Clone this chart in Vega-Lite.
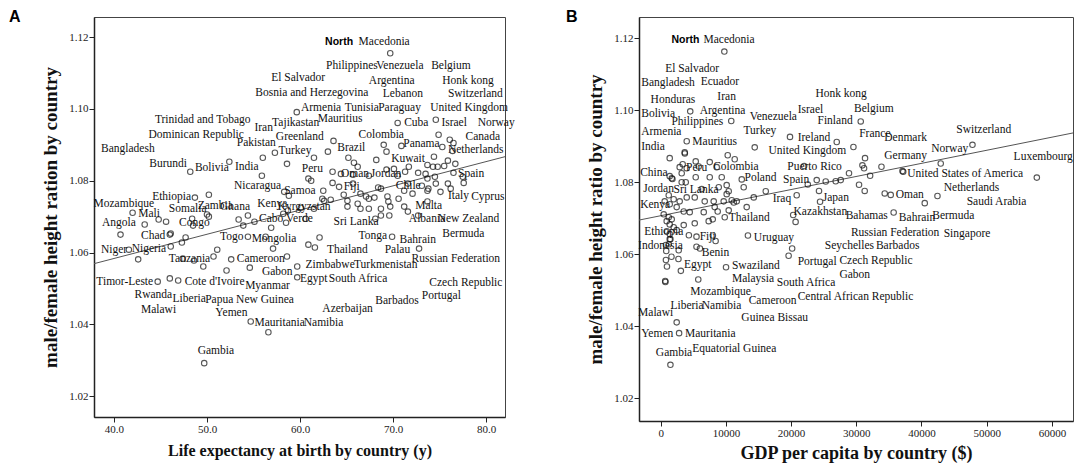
{
  "$schema": "https://vega.github.io/schema/vega-lite/v6.json",
  "padding": {"left": 8, "top": 8, "right": 2, "bottom": 2},
  "bounds": "flush",
  "spacing": 134,
  "config": {
    "view": {"stroke": "#444", "strokeWidth": 1},
    "axis": {
      "grid": false,
      "domainColor": "#222",
      "domainWidth": 1.5,
      "tickColor": "#222",
      "tickSize": 5,
      "labelFont": "Liberation Serif",
      "labelFontSize": 11,
      "labelColor": "#222",
      "labelPadding": 1,
      "titleFont": "Liberation Serif",
      "titleFontWeight": "bold",
      "titleFontSize": 16,
      "titleColor": "#111"
    }
  },
  "datasets": {
    "ptsA": [
      {"x": 69.7, "y": 1.1155}, {"x": 59.65, "y": 1.0991}, {"x": 70.5, "y": 1.0961}, {"x": 74.6, "y": 1.097},
      {"x": 74.9, "y": 1.0928}, {"x": 76.1, "y": 1.0914}, {"x": 76.5, "y": 1.0905}, {"x": 76.4, "y": 1.0883},
      {"x": 75.3, "y": 1.0894}, {"x": 70.9, "y": 1.0897}, {"x": 69.0, "y": 1.09}, {"x": 69.3, "y": 1.0881},
      {"x": 74.4, "y": 1.0867}, {"x": 75.9, "y": 1.0856}, {"x": 76.7, "y": 1.0847}, {"x": 75.5, "y": 1.0841},
      {"x": 63.6, "y": 1.0911}, {"x": 63.0, "y": 1.0881}, {"x": 61.5, "y": 1.0864}, {"x": 58.6, "y": 1.0847},
      {"x": 57.3, "y": 1.0878}, {"x": 56.0, "y": 1.0864}, {"x": 55.9, "y": 1.0814}, {"x": 52.4, "y": 1.0853},
      {"x": 48.2, "y": 1.0825}, {"x": 65.2, "y": 1.0864}, {"x": 65.8, "y": 1.085}, {"x": 66.2, "y": 1.0839},
      {"x": 68.2, "y": 1.0858}, {"x": 71.7, "y": 1.0839}, {"x": 71.3, "y": 1.0825}, {"x": 69.3, "y": 1.0831},
      {"x": 60.9, "y": 1.0806}, {"x": 61.2, "y": 1.08}, {"x": 63.5, "y": 1.0825}, {"x": 64.4, "y": 1.0819},
      {"x": 65.7, "y": 1.0817}, {"x": 67.4, "y": 1.0814}, {"x": 70.1, "y": 1.0833}, {"x": 70.5, "y": 1.0814},
      {"x": 72.7, "y": 1.0822}, {"x": 73.5, "y": 1.0819}, {"x": 74.3, "y": 1.0839}, {"x": 73.7, "y": 1.0844},
      {"x": 74.5, "y": 1.0811}, {"x": 74.8, "y": 1.0839}, {"x": 76.5, "y": 1.0822}, {"x": 77.6, "y": 1.0794},
      {"x": 77.5, "y": 1.0811}, {"x": 63.5, "y": 1.0794}, {"x": 65.7, "y": 1.0792}, {"x": 64.2, "y": 1.0783},
      {"x": 62.5, "y": 1.0772}, {"x": 62.4, "y": 1.075}, {"x": 63.3, "y": 1.0747}, {"x": 64.7, "y": 1.0761},
      {"x": 65.1, "y": 1.0744}, {"x": 66.5, "y": 1.0764}, {"x": 67.1, "y": 1.0756}, {"x": 67.4, "y": 1.075},
      {"x": 68.0, "y": 1.0753}, {"x": 68.7, "y": 1.0778}, {"x": 68.4, "y": 1.0781}, {"x": 69.4, "y": 1.0756},
      {"x": 69.5, "y": 1.0742}, {"x": 70.6, "y": 1.075}, {"x": 71.2, "y": 1.0772}, {"x": 72.1, "y": 1.0764},
      {"x": 71.6, "y": 1.0792}, {"x": 73.1, "y": 1.0786}, {"x": 73.7, "y": 1.0772}, {"x": 73.8, "y": 1.0778},
      {"x": 74.6, "y": 1.0792}, {"x": 75.1, "y": 1.0769}, {"x": 75.9, "y": 1.0792}, {"x": 76.2, "y": 1.0778},
      {"x": 73.7, "y": 1.0806}, {"x": 61.5, "y": 1.0722}, {"x": 60.1, "y": 1.0725}, {"x": 58.7, "y": 1.0717},
      {"x": 65.1, "y": 1.0728}, {"x": 66.2, "y": 1.0736}, {"x": 66.5, "y": 1.0722}, {"x": 67.4, "y": 1.0722},
      {"x": 68.7, "y": 1.0722}, {"x": 69.7, "y": 1.0728}, {"x": 71.2, "y": 1.0728}, {"x": 71.6, "y": 1.0714},
      {"x": 73.7, "y": 1.0742}, {"x": 72.7, "y": 1.0703}, {"x": 68.7, "y": 1.0703}, {"x": 69.6, "y": 1.0703},
      {"x": 62.6, "y": 1.0744}, {"x": 60.6, "y": 1.0694}, {"x": 58.3, "y": 1.0769}, {"x": 58.8, "y": 1.0758},
      {"x": 56.9, "y": 1.0669}, {"x": 55.1, "y": 1.0686}, {"x": 54.4, "y": 1.0703}, {"x": 53.4, "y": 1.0692},
      {"x": 53.9, "y": 1.0675}, {"x": 58.5, "y": 1.0683}, {"x": 58.2, "y": 1.0708}, {"x": 54.4, "y": 1.0644},
      {"x": 56.3, "y": 1.0644}, {"x": 57.1, "y": 1.0611}, {"x": 58.6, "y": 1.0589}, {"x": 60.9, "y": 1.0622},
      {"x": 61.6, "y": 1.0614}, {"x": 62.1, "y": 1.0642}, {"x": 59.7, "y": 1.0561}, {"x": 59.7, "y": 1.0531},
      {"x": 69.9, "y": 1.0644}, {"x": 72.8, "y": 1.0611}, {"x": 52.6, "y": 1.0581}, {"x": 52.1, "y": 1.055},
      {"x": 54.6, "y": 1.0558}, {"x": 47.4, "y": 1.0583}, {"x": 48.6, "y": 1.0578}, {"x": 49.6, "y": 1.0561},
      {"x": 50.7, "y": 1.0589}, {"x": 51.1, "y": 1.0608}, {"x": 41.6, "y": 1.0608}, {"x": 42.6, "y": 1.0581},
      {"x": 46.1, "y": 1.0617}, {"x": 47.3, "y": 1.0628}, {"x": 47.7, "y": 1.0642}, {"x": 46.1, "y": 1.0653},
      {"x": 46.0, "y": 1.065}, {"x": 40.7, "y": 1.065}, {"x": 43.3, "y": 1.0678}, {"x": 42.0, "y": 1.0711},
      {"x": 44.8, "y": 1.0692}, {"x": 45.6, "y": 1.0686}, {"x": 48.4, "y": 1.0694}, {"x": 50.0, "y": 1.0706},
      {"x": 50.2, "y": 1.07}, {"x": 48.7, "y": 1.0753}, {"x": 50.2, "y": 1.0761}, {"x": 44.7, "y": 1.0519},
      {"x": 46.0, "y": 1.0528}, {"x": 46.9, "y": 1.0522}, {"x": 54.7, "y": 1.0408}, {"x": 56.6, "y": 1.0378},
      {"x": 49.7, "y": 1.0292}, {"x": 48.5, "y": 1.0675}, {"x": 68.1, "y": 1.0694}
    ],
    "fitA": [{"x": 37.85, "y": 1.0569}, {"x": 82.04, "y": 1.0867}],
    "labA": [
      {"c": "Macedonia", "x": 66.3, "y": 1.1186},
      {"c": "Philippines", "x": 62.8, "y": 1.1119}, {"c": "Venezuela", "x": 68.2, "y": 1.1119}, {"c": "Belgium", "x": 74.1, "y": 1.1119},
      {"c": "El Salvador", "x": 56.9, "y": 1.1086}, {"c": "Argentina", "x": 67.4, "y": 1.1078}, {"c": "Honk kong", "x": 75.3, "y": 1.1078},
      {"c": "Bosnia and Herzegovina", "x": 55.2, "y": 1.1044}, {"c": "Lebanon", "x": 68.9, "y": 1.1042}, {"c": "Switzerland", "x": 75.9, "y": 1.1042},
      {"c": "Armenia", "x": 60.1, "y": 1.1003}, {"c": "Tunisia", "x": 64.8, "y": 1.1003}, {"c": "Paraguay", "x": 68.4, "y": 1.1003}, {"c": "United Kingdom", "x": 74.0, "y": 1.1003},
      {"c": "Trinidad and Tobago", "x": 44.4, "y": 1.0969}, {"c": "Iran", "x": 55.1, "y": 1.0947}, {"c": "Tajikastan", "x": 57.0, "y": 1.0961}, {"c": "Mauritius", "x": 61.9, "y": 1.0972},
      {"c": "Cuba", "x": 71.2, "y": 1.0961}, {"c": "Israel", "x": 75.2, "y": 1.0961}, {"c": "Norway", "x": 79.1, "y": 1.0961},
      {"c": "Dominican Republic", "x": 43.7, "y": 1.0928}, {"c": "Greenland", "x": 57.4, "y": 1.0922}, {"c": "Colombia", "x": 66.3, "y": 1.0928},
      {"c": "Panama", "x": 71.1, "y": 1.0903}, {"c": "Canada", "x": 77.8, "y": 1.0922},
      {"c": "Bangladesh", "x": 38.6, "y": 1.0889}, {"c": "Pakistan", "x": 53.2, "y": 1.0906}, {"c": "Turkey", "x": 57.7, "y": 1.0883},
      {"c": "Brazil", "x": 64.0, "y": 1.0892}, {"c": "Netherlands", "x": 75.9, "y": 1.0886},
      {"c": "Burundi", "x": 43.8, "y": 1.0847}, {"c": "Bolivia", "x": 48.7, "y": 1.0836}, {"c": "India", "x": 53.0, "y": 1.0839}, {"c": "Kuwait", "x": 69.8, "y": 1.0861},
      {"c": "Peru", "x": 60.2, "y": 1.0833}, {"c": "Oman", "x": 64.4, "y": 1.0819}, {"c": "Jordan", "x": 67.6, "y": 1.0819}, {"c": "Spain", "x": 77.0, "y": 1.0819},
      {"c": "Nicaragua", "x": 52.9, "y": 1.0786}, {"c": "Samoa", "x": 58.3, "y": 1.0772}, {"c": "Fiji", "x": 64.7, "y": 1.0783}, {"c": "Chile", "x": 70.3, "y": 1.0786},
      {"c": "Mozambique", "x": 37.8, "y": 1.0736}, {"c": "Ethiopia", "x": 44.1, "y": 1.0756}, {"c": "Zambia", "x": 49.0, "y": 1.0731}, {"c": "Ghana", "x": 51.4, "y": 1.0728},
      {"c": "Kenya", "x": 55.4, "y": 1.0736}, {"c": "Kyrgyzstan", "x": 57.6, "y": 1.0728}, {"c": "Italy", "x": 75.9, "y": 1.0758}, {"c": "Cyprus", "x": 78.4, "y": 1.0756},
      {"c": "Malta", "x": 72.4, "y": 1.0731}, {"c": "Mali", "x": 42.6, "y": 1.0708}, {"c": "Somalia", "x": 45.9, "y": 1.0722}, {"c": "Congo", "x": 47.0, "y": 1.0681},
      {"c": "Cabo Verde", "x": 55.6, "y": 1.0694}, {"c": "Sri Lanka", "x": 63.6, "y": 1.0686}, {"c": "Albania", "x": 71.7, "y": 1.0694}, {"c": "New Zealand", "x": 74.8, "y": 1.0694},
      {"c": "Angola", "x": 38.7, "y": 1.0681}, {"c": "Chad", "x": 42.9, "y": 1.0647}, {"c": "Togo", "x": 51.4, "y": 1.0644}, {"c": "Mongolia", "x": 54.8, "y": 1.0639},
      {"c": "Tonga", "x": 66.3, "y": 1.0647}, {"c": "Bahrain", "x": 70.7, "y": 1.0636}, {"c": "Bermuda", "x": 75.3, "y": 1.0653},
      {"c": "Niger", "x": 38.6, "y": 1.0608}, {"c": "Nigeria", "x": 41.9, "y": 1.0611}, {"c": "Thailand", "x": 62.9, "y": 1.0608}, {"c": "Palau", "x": 69.1, "y": 1.0608},
      {"c": "Tanzania", "x": 45.9, "y": 1.0583}, {"c": "Cameroon", "x": 53.2, "y": 1.0581}, {"c": "Russian Federation", "x": 72.0, "y": 1.0581},
      {"c": "Zimbabwe", "x": 60.6, "y": 1.0564}, {"c": "Turkmenistan", "x": 65.8, "y": 1.0564}, {"c": "Gabon", "x": 55.9, "y": 1.0547},
      {"c": "Timor-Leste", "x": 38.1, "y": 1.0519}, {"c": "Cote d'Ivoire", "x": 47.6, "y": 1.0519}, {"c": "Myanmar", "x": 54.1, "y": 1.0508},
      {"c": "Egypt", "x": 60.0, "y": 1.0525}, {"c": "South Africa", "x": 63.1, "y": 1.0525}, {"c": "Czech Republic", "x": 73.9, "y": 1.0514},
      {"c": "Rwanda", "x": 42.2, "y": 1.0481}, {"c": "Liberia", "x": 46.3, "y": 1.0472}, {"c": "Papua New Guinea", "x": 49.8, "y": 1.0467},
      {"c": "Barbados", "x": 68.1, "y": 1.0464}, {"c": "Portugal", "x": 73.1, "y": 1.0478},
      {"c": "Malawi", "x": 42.9, "y": 1.0439}, {"c": "Yemen", "x": 50.9, "y": 1.0431}, {"c": "Azerbaijan", "x": 62.4, "y": 1.0444},
      {"c": "Mauritania", "x": 55.1, "y": 1.0403}, {"c": "Namibia", "x": 60.4, "y": 1.0403}, {"c": "Gambia", "x": 49.0, "y": 1.0325}
    ],
    "boldA": [{"c": "North", "x": 62.7, "y": 1.1186}],
    "ptsB": [
      {"x": 9760, "y": 1.1163}, {"x": 4530, "y": 1.0997}, {"x": 10820, "y": 1.097},
      {"x": 30680, "y": 1.0969}, {"x": 19830, "y": 1.0926}, {"x": 27000, "y": 1.0912}, {"x": 29560, "y": 1.0898},
      {"x": 47820, "y": 1.0904}, {"x": 31340, "y": 1.0867}, {"x": 30940, "y": 1.0847}, {"x": 31190, "y": 1.0839},
      {"x": 28880, "y": 1.0825}, {"x": 32120, "y": 1.0818}, {"x": 33860, "y": 1.0843}, {"x": 37080, "y": 1.0831},
      {"x": 37200, "y": 1.0829}, {"x": 42950, "y": 1.0852}, {"x": 57690, "y": 1.0813}, {"x": 27610, "y": 1.0806},
      {"x": 26840, "y": 1.0803}, {"x": 25310, "y": 1.0802}, {"x": 23930, "y": 1.0806}, {"x": 20860, "y": 1.0764},
      {"x": 24280, "y": 1.0776}, {"x": 24440, "y": 1.0746}, {"x": 31290, "y": 1.0776}, {"x": 30420, "y": 1.0793},
      {"x": 34360, "y": 1.0769}, {"x": 35280, "y": 1.0765}, {"x": 40500, "y": 1.0742}, {"x": 42450, "y": 1.0762},
      {"x": 22000, "y": 1.0845}, {"x": 20320, "y": 1.0709}, {"x": 20690, "y": 1.069}, {"x": 35730, "y": 1.0716},
      {"x": 22560, "y": 1.0794}, {"x": 3990, "y": 1.0914}, {"x": 3680, "y": 1.0883}, {"x": 3700, "y": 1.088},
      {"x": 1380, "y": 1.0867}, {"x": 14420, "y": 1.0897}, {"x": 10280, "y": 1.0875}, {"x": 11350, "y": 1.0864},
      {"x": 12430, "y": 1.0808}, {"x": 12730, "y": 1.0786}, {"x": 14270, "y": 1.0758}, {"x": 16110, "y": 1.0775},
      {"x": 6290, "y": 1.0781}, {"x": 8900, "y": 1.0786}, {"x": 10120, "y": 1.0792}, {"x": 9820, "y": 1.0703},
      {"x": 3370, "y": 1.085}, {"x": 5370, "y": 1.0858}, {"x": 7520, "y": 1.0856}, {"x": 5830, "y": 1.0844},
      {"x": 2910, "y": 1.0842}, {"x": 3990, "y": 1.0839}, {"x": 8590, "y": 1.0842}, {"x": 7520, "y": 1.0814},
      {"x": 9360, "y": 1.0814}, {"x": 5370, "y": 1.0814}, {"x": 3220, "y": 1.0825}, {"x": 3220, "y": 1.08},
      {"x": 3840, "y": 1.08}, {"x": 1380, "y": 1.0817}, {"x": 1690, "y": 1.0811}, {"x": 1800, "y": 1.0809},
      {"x": 10430, "y": 1.0775}, {"x": 10120, "y": 1.0767}, {"x": 11200, "y": 1.0744}, {"x": 11660, "y": 1.0747},
      {"x": 10430, "y": 1.0722}, {"x": 8280, "y": 1.0731}, {"x": 8740, "y": 1.0719}, {"x": 6600, "y": 1.0717},
      {"x": 4450, "y": 1.0717}, {"x": 3530, "y": 1.0719}, {"x": 2450, "y": 1.0731}, {"x": 1990, "y": 1.0753},
      {"x": 1230, "y": 1.0764}, {"x": 1380, "y": 1.0739}, {"x": 610, "y": 1.0747}, {"x": 2910, "y": 1.0747},
      {"x": 3990, "y": 1.0758}, {"x": 5220, "y": 1.0758}, {"x": 6750, "y": 1.0747}, {"x": 8130, "y": 1.0747},
      {"x": 9660, "y": 1.0747}, {"x": 10890, "y": 1.075}, {"x": 13190, "y": 1.0731}, {"x": 7360, "y": 1.0692},
      {"x": 7980, "y": 1.0697}, {"x": 5220, "y": 1.0686}, {"x": 460, "y": 1.0711}, {"x": 1230, "y": 1.0703},
      {"x": 1690, "y": 1.0697}, {"x": 1380, "y": 1.0683}, {"x": 920, "y": 1.0692}, {"x": 1990, "y": 1.0675},
      {"x": 920, "y": 1.0664}, {"x": 1380, "y": 1.0656}, {"x": 2450, "y": 1.0667}, {"x": 3530, "y": 1.0681},
      {"x": 1380, "y": 1.0642}, {"x": 1230, "y": 1.0628}, {"x": 2760, "y": 1.0611}, {"x": 4320, "y": 1.0653},
      {"x": 5490, "y": 1.0649}, {"x": 8000, "y": 1.0652}, {"x": 8420, "y": 1.0637}, {"x": 13380, "y": 1.0652},
      {"x": 5490, "y": 1.0621}, {"x": 6020, "y": 1.0616}, {"x": 1490, "y": 1.0642}, {"x": 800, "y": 1.0626},
      {"x": 850, "y": 1.0609}, {"x": 800, "y": 1.0584}, {"x": 960, "y": 1.0566}, {"x": 1650, "y": 1.0593},
      {"x": 2720, "y": 1.0587}, {"x": 3090, "y": 1.0554}, {"x": 5760, "y": 1.053}, {"x": 690, "y": 1.0526},
      {"x": 720, "y": 1.0523}, {"x": 10020, "y": 1.0564}, {"x": 19620, "y": 1.0596}, {"x": 20160, "y": 1.0616},
      {"x": 2450, "y": 1.0411}, {"x": 2820, "y": 1.0381}, {"x": 1490, "y": 1.0293}
    ],
    "fitB": [{"x": -3330, "y": 1.0695}, {"x": 63240, "y": 1.0937}],
    "labB": [
      {"c": "Macedonia", "x": 6560, "y": 1.1194},
      {"c": "El Salvador", "x": 690, "y": 1.1114}, {"c": "Bangladesh", "x": -2990, "y": 1.1075}, {"c": "Ecuador", "x": 6130, "y": 1.1078},
      {"c": "Honduras", "x": -1550, "y": 1.1028}, {"c": "Iran", "x": 8690, "y": 1.1037}, {"c": "Honk kong", "x": 23730, "y": 1.1045},
      {"c": "Bolivia", "x": -2990, "y": 1.0989}, {"c": "Argentina", "x": 5970, "y": 1.0998}, {"c": "Venezuela", "x": 13650, "y": 1.0981},
      {"c": "Israel", "x": 21010, "y": 1.1001}, {"c": "Belgium", "x": 29650, "y": 1.1003}, {"c": "Philippines", "x": 1650, "y": 1.0967},
      {"c": "Finland", "x": 24050, "y": 1.097}, {"c": "Armenia", "x": -2990, "y": 1.094}, {"c": "Turkey", "x": 12690, "y": 1.0942},
      {"c": "Ireland", "x": 21010, "y": 1.0923}, {"c": "France", "x": 30450, "y": 1.0934}, {"c": "Denmark", "x": 34290, "y": 1.0923},
      {"c": "Switzerland", "x": 45330, "y": 1.0945}, {"c": "India", "x": -2990, "y": 1.0898}, {"c": "Mauritius", "x": 4850, "y": 1.0912},
      {"c": "United Kingdom", "x": 16530, "y": 1.0887}, {"c": "Germany", "x": 34290, "y": 1.0873}, {"c": "Norway", "x": 41490, "y": 1.0893},
      {"c": "Luxembourg", "x": 54130, "y": 1.087}, {"c": "China", "x": -3150, "y": 1.0826}, {"c": "Peru", "x": 3890, "y": 1.084},
      {"c": "Colombia", "x": 8050, "y": 1.0843}, {"c": "Puerto Rico", "x": 19410, "y": 1.0843}, {"c": "United States of America", "x": 37810, "y": 1.0823},
      {"c": "Poland", "x": 12850, "y": 1.0812}, {"c": "Spain", "x": 18770, "y": 1.0807}, {"c": "Jordan", "x": -2670, "y": 1.0782},
      {"c": "Sri Lanka", "x": 1970, "y": 1.0779}, {"c": "Netherlands", "x": 43410, "y": 1.0784}, {"c": "Japan", "x": 24850, "y": 1.0756},
      {"c": "Iraq", "x": 17170, "y": 1.0753}, {"c": "Oman", "x": 36050, "y": 1.0765}, {"c": "Saudi Arabia", "x": 46930, "y": 1.0745},
      {"c": "Kenya", "x": -3150, "y": 1.0737}, {"c": "Kazakhstan", "x": 20370, "y": 1.0718}, {"c": "Bahamas", "x": 28370, "y": 1.0707},
      {"c": "Bahrain", "x": 36530, "y": 1.0701}, {"c": "Bermuda", "x": 41650, "y": 1.0707}, {"c": "Thailand", "x": 10450, "y": 1.0701},
      {"c": "Ethiopia", "x": -2510, "y": 1.0663}, {"c": "Fiji", "x": 5970, "y": 1.0649}, {"c": "Uruguay", "x": 14290, "y": 1.0646},
      {"c": "Russian Federation", "x": 29170, "y": 1.066}, {"c": "Singapore", "x": 43410, "y": 1.0657}, {"c": "Indonesia", "x": -3470, "y": 1.0624},
      {"c": "Seychelles", "x": 25170, "y": 1.0624}, {"c": "Barbados", "x": 33010, "y": 1.0624}, {"c": "Benin", "x": 6290, "y": 1.0604},
      {"c": "Egypt", "x": 3570, "y": 1.0571}, {"c": "Swaziland", "x": 10930, "y": 1.0568}, {"c": "Portugal", "x": 21010, "y": 1.0579},
      {"c": "Czech Republic", "x": 27410, "y": 1.0582}, {"c": "Malaysia", "x": 10930, "y": 1.053}, {"c": "South Africa", "x": 17810, "y": 1.0519},
      {"c": "Gabon", "x": 27410, "y": 1.0543}, {"c": "Mozambique", "x": 4530, "y": 1.0494}, {"c": "Cameroon", "x": 13490, "y": 1.0471},
      {"c": "Central African Republic", "x": 21010, "y": 1.048}, {"c": "Malawi", "x": -3470, "y": 1.0438}, {"c": "Liberia", "x": 1490, "y": 1.0455},
      {"c": "Namibia", "x": 6290, "y": 1.0455}, {"c": "Guinea Bissau", "x": 12370, "y": 1.0424}, {"c": "Yemen", "x": -2990, "y": 1.038},
      {"c": "Mauritania", "x": 3730, "y": 1.038}, {"c": "Gambia", "x": -750, "y": 1.0327}, {"c": "Equatorial Guinea", "x": 4850, "y": 1.0338}
    ],
    "boldB": [{"c": "North", "x": 1650, "y": 1.1194}]
  },
  "hconcat": [
    {
      "width": 411,
      "height": 400,
      "title": {"text": "A", "anchor": "start", "frame": "group", "dx": -85, "offset": -8, "font": "Liberation Sans", "fontSize": 16, "fontWeight": "bold", "color": "#000"},
      "encoding": {
        "x": {
          "field": "x", "type": "quantitative",
          "scale": {"domain": [37.85, 82.04], "nice": false, "zero": false},
          "axis": {"values": [40, 50, 60, 70, 80], "format": ".1f", "title": "Life expectancy at birth by country (y)", "titlePadding": 8}
        },
        "y": {
          "field": "y", "type": "quantitative",
          "scale": {"domain": [1.0142, 1.1256], "nice": false, "zero": false},
          "axis": {"values": [1.02, 1.04, 1.06, 1.08, 1.1, 1.12], "format": ".2f", "title": "male/female height ration by country", "titleFontSize": 19, "titlePadding": 8}
        }
      },
      "layer": [
        {"data": {"name": "fitA"}, "mark": {"type": "line", "color": "#555", "strokeWidth": 1, "clip": true}},
        {"data": {"name": "ptsA"}, "mark": {"type": "point", "shape": "circle", "filled": false, "size": 30, "color": "#111", "strokeWidth": 1.1}},
        {"data": {"name": "labA"}, "mark": {"type": "text", "align": "left", "baseline": "middle", "font": "Liberation Serif", "fontSize": 11.5, "color": "#111"}, "encoding": {"text": {"field": "c"}}},
        {"data": {"name": "boldA"}, "mark": {"type": "text", "align": "left", "baseline": "middle", "font": "Liberation Sans", "fontWeight": "bold", "fontSize": 10.5, "color": "#000"}, "encoding": {"text": {"field": "c"}}}
      ]
    },
    {
      "width": 434,
      "height": 404,
      "title": {"text": "B", "anchor": "start", "frame": "group", "dx": -73, "offset": -8, "font": "Liberation Sans", "fontSize": 16, "fontWeight": "bold", "color": "#000"},
      "encoding": {
        "x": {
          "field": "x", "type": "quantitative",
          "scale": {"domain": [-3330, 63240], "nice": false, "zero": false},
          "axis": {"values": [0, 10000, 20000, 30000, 40000, 50000, 60000], "format": "d", "title": "GDP per capita by country ($)", "titleFontSize": 18, "titlePadding": 6}
        },
        "y": {
          "field": "y", "type": "quantitative",
          "scale": {"domain": [1.0137, 1.1259], "nice": false, "zero": false},
          "axis": {"values": [1.02, 1.04, 1.06, 1.08, 1.1, 1.12], "format": ".2f", "title": "male/female height ratio by country", "titleFontSize": 19, "titlePadding": 8}
        }
      },
      "layer": [
        {"data": {"name": "fitB"}, "mark": {"type": "line", "color": "#555", "strokeWidth": 1, "clip": true}},
        {"data": {"name": "ptsB"}, "mark": {"type": "point", "shape": "circle", "filled": false, "size": 30, "color": "#111", "strokeWidth": 1.1}},
        {"data": {"name": "labB"}, "mark": {"type": "text", "align": "left", "baseline": "middle", "font": "Liberation Serif", "fontSize": 11.5, "color": "#111"}, "encoding": {"text": {"field": "c"}}},
        {"data": {"name": "boldB"}, "mark": {"type": "text", "align": "left", "baseline": "middle", "font": "Liberation Sans", "fontWeight": "bold", "fontSize": 10.5, "color": "#000"}, "encoding": {"text": {"field": "c"}}}
      ]
    }
  ]
}
